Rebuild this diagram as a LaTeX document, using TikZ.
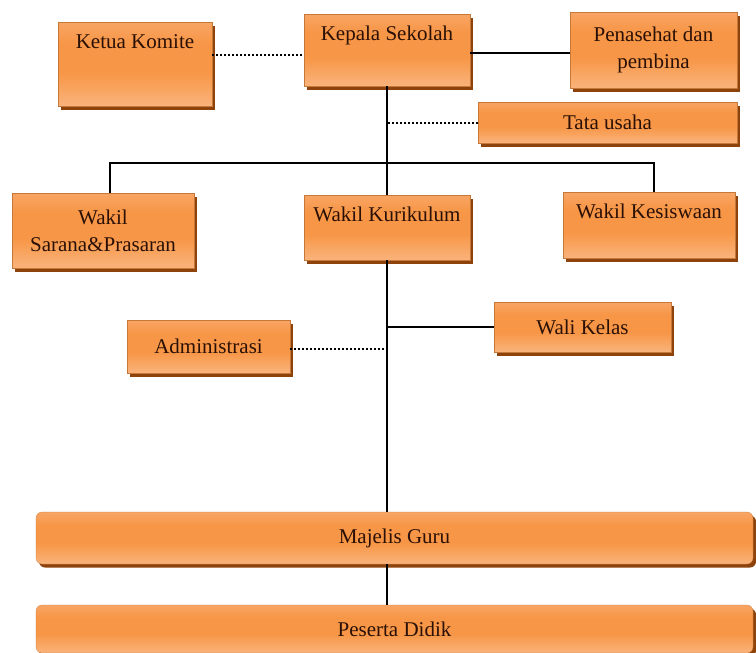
\documentclass[tikz,border=0pt]{standalone}
\usepackage{fontspec}
\setmainfont{Liberation Serif}
\usepackage{tikz}
\usetikzlibrary{calc}
\usetikzlibrary{shadows}

\definecolor{orangemid}{HTML}{F79646}
\definecolor{orangetop}{HTML}{F9B383}
\definecolor{orangebot}{HTML}{FBC7A0}
\definecolor{shadowbrown}{HTML}{8E430C}
\definecolor{textbrown}{HTML}{2A1006}
\pgfdeclareverticalshading{orangebox}{100bp}{color(0bp)=(orangebot); color(25bp)=(orangebot!60!orangemid);
  color(45bp)=(orangemid); color(62bp)=(orangemid); color(80bp)=(orangetop!70!orangemid); color(100bp)=(orangetop)}

\tikzset{box/.style={rectangle, shading=orangebox, draw=orangemid!80!black, very thin,
                     general shadow={shadow xshift=3pt, shadow yshift=-3.5pt, fill=shadowbrown},
                     text=textbrown, font=\fontsize{21}{27}\selectfont, align=center, inner sep=0pt},
         toptext/.style={text height=26pt, text depth=#1},
         wide/.style={rounded corners=6pt},
         solidline/.style={line width=2pt, black},
         dotline/.style={line width=2pt, black, dotted}}

\begin{document}
\begin{tikzpicture}[x=1pt, y=-1pt]
 \useasboundingbox (0,0) rectangle (756,653);
 % top row
 \node[box, minimum width=154, toptext=58pt] (ketua) at (135,64) {Ketua Komite};
 \node[box, minimum width=166, toptext=46pt] (kepala) at (387,50) {Kepala Sekolah};
 \node[box, minimum width=167, minimum height=76] (penasehat) at (653.5,50) {Penasehat dan\\pembina};
 \node[box, minimum width=259, minimum height=41] (tata) at (607.5,122.5) {Tata usaha};
 % wakil
 \node[box, minimum width=182, minimum height=75] (sarana) at (103,230.5) {Wakil\\Sarana\&Prasaran};
 \node[box, minimum width=166, toptext=39pt] (kurikulum) at (387,227.5) {Wakil Kurikulum};
 \node[box, minimum width=172, toptext=40pt] (kesiswaan) at (649,225.5) {Wakil Kesiswaan};
 \node[box, minimum width=163, minimum height=53] (admin) at (208.5,346.5) {Administrasi};
 \node[box, minimum width=177, minimum height=50] (wali) at (582.5,327) {Wali Kelas};
 % bawah
 \node[box, wide, minimum width=717, minimum height=52] (majelis) at (394.5,538) {Majelis Guru};
 \node[box, wide, minimum width=717, minimum height=48] (peserta) at (394.5,629) {Peserta Didik};

 \coordinate (barL) at (110,163);
 \coordinate (barR) at (654,163);

 \draw[dotline] ([yshift=-5pt]kepala.west -| ketua.east) -- ([yshift=-5pt]kepala.west);
 \draw[solidline] ([yshift=-3pt]kepala.east) -- ([yshift=-3pt]penasehat.west);
 \draw[solidline] (kepala.south) -- (kurikulum.north);
 \draw[dotline] (tata.west) -- (tata.west -| kepala.south);
 \draw[solidline] (sarana.north -| barL) -- (barL) -- (barR) -- (barR |- kesiswaan.north);
 \draw[solidline] (kurikulum.south) -- (kurikulum.south |- majelis.north);
 \draw[solidline] (wali.west) -- (wali.west -| kurikulum.south);
 \draw[dotline] ([yshift=-2pt]admin.east) -- ([yshift=-2pt]admin.east -| kurikulum.south);
 \draw[solidline] (majelis.south -| kurikulum.south) -- (peserta.north -| kurikulum.south);
\end{tikzpicture}
\end{document}
